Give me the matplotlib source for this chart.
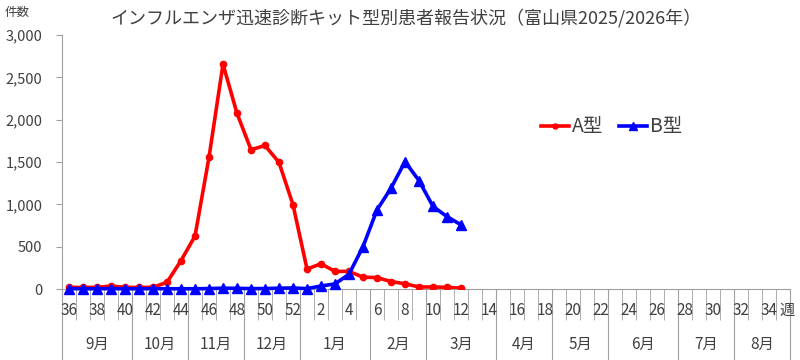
import matplotlib
matplotlib.use("Agg")
import matplotlib.pyplot as plt
import matplotlib.transforms as mtransforms
import numpy as np

plt.rcParams['font.family'] = ['Noto Sans CJK JP', 'DejaVu Sans']

# 週ラベル（36週〜翌年35週）
weeks = list(range(36, 53)) + list(range(1, 36))
# A型・B型 報告数（読み取り値）
a_type = [20, 18, 20, 35, 20, 18, 20, 80, 335, 625, 1555, 2655, 2075, 1645, 1695, 1495,
          995, 236, 298, 208, 208, 140, 135, 88, 62, 24, 24, 20, 10]
b_type = [5, 3, 3, 5, 3, 3, 5, 3, 3, 3, 5, 10, 8, 5, 5, 10,
          12, 5, 35, 60, 175, 500, 935, 1190, 1505, 1280, 975, 855, 758]
months = ['9月', '10月', '11月', '12月', '1月', '2月', '3月', '4月', '5月', '6月', '7月', '8月']
month_weeks = [5, 4, 4, 4, 5, 4, 5, 4, 4, 5, 4, 4]
title = 'インフルエンザ迅速診断キット型別患者報告状況（富山県2025/2026年）'

fig = plt.figure(figsize=(8, 3.6), dpi=100)
ax = fig.add_axes([0.0775, 0.1972, 0.91, 0.7056])

x = np.arange(len(weeks))
ax.plot(x[:len(a_type)], a_type, color='#ff0000', lw=2.6, marker='o', ms=4.5,
        label='A型', zorder=3)
ax.plot(x[:len(b_type)], b_type, color='#0000ff', lw=2.6, marker='^', ms=7.5,
        label='B型', zorder=4, clip_on=False)

ax.set_xlim(-0.5, len(weeks) - 0.5)
ax.set_ylim(0, 3000)
ax.set_yticks(np.arange(0, 3001, 500))
ax.set_yticklabels([f'{v:,}' for v in range(0, 3001, 500)], fontsize=10.5, color='#404040')
ax.tick_params(axis='y', length=4, color='#a0a0a0', pad=10)

for s in ['top', 'right']:
    ax.spines[s].set_visible(False)
for s in ['left', 'bottom']:
    ax.spines[s].set_color('#a0a0a0')

# x軸：週の境界（短い目盛）と月の境界（長い線）
bounds = np.arange(len(weeks) + 1) - 0.5
month_bounds = np.concatenate([[0], np.cumsum(month_weeks)]) - 0.5
ax.set_xticks(month_bounds)
ax.set_xticks([b for b in bounds if b not in month_bounds], minor=True)
ax.tick_params(axis='x', which='major', length=52, color='#a0a0a0', labelbottom=False)
ax.tick_params(axis='x', which='minor', length=22, color='#a0a0a0', labelbottom=False)

trans = mtransforms.blended_transform_factory(ax.transData, ax.transAxes)
for i, w in enumerate(weeks[:-1]):
    if i % 2 == 0:
        ax.text(i, -0.085, str(w), transform=trans, ha='center', va='center',
                fontsize=11, color='#404040')
ax.text(len(weeks) - 0.7, -0.085, '週', transform=trans, ha='center', va='center',
        fontsize=11, color='#404040')
starts = month_bounds[:-1]
for m, s, n in zip(months, starts, month_weeks):
    ax.text(s + n / 2, -0.22, m, transform=trans, ha='center', va='center',
            fontsize=11, color='#404040')

fig.text(0.507, 0.95, title, ha='center', va='center', fontsize=13, color='#404040')
fig.text(0.006, 0.965, '件数', ha='left', va='center', fontsize=9, color='#404040')

leg = ax.legend(loc='center', bbox_to_anchor=(0.755, 0.638), ncol=2, frameon=False,
                fontsize=14, handlelength=1.45, columnspacing=0.8, handletextpad=0.15,
                labelcolor='#404040', markerscale=0.8)

fig.savefig('out.png', dpi=100)
